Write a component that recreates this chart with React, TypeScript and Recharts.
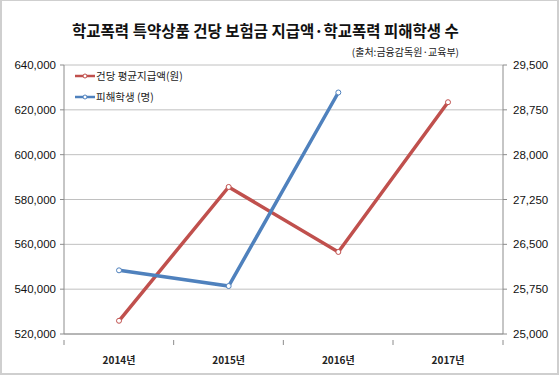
import { CartesianGrid, LineChart, Line, XAxis, YAxis } from "recharts";

const years = ["2014년", "2015년", "2016년", "2017년"];
const avgPayout = [525900, 585600, 556600, 623400];
const victims: (number | null)[] = [26065, 25802, 29040, null];
const leftTicks = [520000, 540000, 560000, 580000, 600000, 620000, 640000];
const rightTicks = [25000, 25750, 26500, 27250, 28000, 28750, 29500];

const data = years.map((year, i) => ({
  year,
  payout: avgPayout[i],
  victims: victims[i],
}));

const legendItems = [
  { label: "건당 평균지급액(원)", color: "#C0504D" },
  { label: "피해학생 (명)", color: "#4F81BD" },
];

const FONT = "'Liberation Sans', 'Noto Sans CJK KR', sans-serif";
const KFONT = "'Noto Sans CJK KR', 'Liberation Sans', sans-serif";
const fmt = (v: number) => v.toLocaleString("en-US");

// x-axis tick: label at category centre, tick marks on category boundaries
function YearTick(props: any) {
  const { x, y, payload, index } = props;
  const half = 55;
  const last = index === years.length - 1;
  return (
    <g>
      <line x1={x - half} y1={y - 2} x2={x - half} y2={y + 3} stroke="#8c8c8c" />
      {last && <line x1={x + half} y1={y - 2} x2={x + half} y2={y + 3} stroke="#8c8c8c" />}
      <text
        x={x}
        y={y + 22}
        textAnchor="middle"
        fontSize={10}
        fontWeight={700}
        fontFamily={KFONT}
        fill="#222"
      >
        {payload.value}
      </text>
    </g>
  );
}

export default function App() {
  return (
    <div
      style={{
        position: "fixed",
        left: 0,
        top: 0,
        width: 560,
        height: 376,
        background: "#fff",
      }}
    >
      <div
        style={{
          position: "absolute",
          left: 0,
          top: 0,
          width: 555,
          height: 372,
          borderTop: "1px solid #cfcfcf",
          borderLeft: "2px solid #cfcfcf",
          borderRight: "2px solid #cfcfcf",
          borderBottom: "2px solid #cfcfcf",
        }}
      />
      <div
        style={{
          position: "absolute",
          left: 0,
          width: 531,
          top: 19,
          textAlign: "center",
          fontFamily: KFONT,
          fontWeight: 700,
          fontSize: 15.5,
          color: "#111",
        }}
      >
        학교폭력 특약상품 건당 보험금 지급액·학교폭력 피해학생 수
      </div>
      <div
        style={{
          position: "absolute",
          right: 101,
          top: 44,
          fontFamily: KFONT,
          fontSize: 10,
          color: "#222",
        }}
      >
        (출처:금융감독원·교육부)
      </div>
      <LineChart
        width={560}
        height={376}
        data={data}
        margin={{ top: 65, right: 0, bottom: 18, left: 0 }}
        style={{ position: "absolute", left: 0, top: 0 }}
      >
        <CartesianGrid vertical={false} stroke="#c0c0c0" yAxisId="left" />
        <XAxis
          dataKey="year"
          axisLine={{ stroke: "#8c8c8c" }}
          tickLine={false}
          height={24}
          interval={0}
          padding={{ left: 55, right: 55 }}
          tick={<YearTick />}
        />
        <YAxis
          yAxisId="left"
          width={64}
          domain={[520000, 640000]}
          ticks={leftTicks}
          tickFormatter={fmt}
          axisLine={{ stroke: "#8c8c8c" }}
          tickLine={{ stroke: "#8c8c8c" }}
          tickSize={4}
          tickMargin={4}
          tick={{ fontSize: 11.5, fontFamily: FONT, fill: "#111" }}
        />
        <YAxis
          yAxisId="right"
          orientation="right"
          width={57}
          domain={[25000, 29500]}
          ticks={rightTicks}
          tickFormatter={fmt}
          axisLine={{ stroke: "#8c8c8c" }}
          tickLine={{ stroke: "#8c8c8c" }}
          tickSize={4}
          tickMargin={6}
          tick={{ fontSize: 11.5, fontFamily: FONT, fill: "#111" }}
        />
        <Line
          yAxisId="left"
          type="linear"
          dataKey="payout"
          name="건당 평균지급액(원)"
          stroke="#C0504D"
          strokeWidth={3.5}
          dot={{ r: 2.5, fill: "#fff", stroke: "#C0504D", strokeWidth: 1 }}
          isAnimationActive={false}
        />
        <Line
          yAxisId="right"
          type="linear"
          dataKey="victims"
          name="피해학생 (명)"
          stroke="#4F81BD"
          strokeWidth={3.5}
          dot={{ r: 2.5, fill: "#fff", stroke: "#4F81BD", strokeWidth: 1 }}
          connectNulls={false}
          isAnimationActive={false}
        />
      </LineChart>
      <div
        style={{
          position: "absolute",
          left: 75,
          top: 65,
          fontFamily: KFONT,
          fontSize: 10.5,
          color: "#222",
        }}
      >
        {legendItems.map((item) => (
          <div key={item.label} style={{ display: "flex", alignItems: "center", height: 21 }}>
            <svg width={20} height={8} style={{ marginRight: 1 }}>
              <line x1={0} y1={4} x2={20} y2={4} stroke={item.color} strokeWidth={2.5} />
              <circle cx={10} cy={4} r={2} fill="#fff" stroke={item.color} strokeWidth={1} />
            </svg>
            <span>{item.label}</span>
          </div>
        ))}
      </div>
    </div>
  );
}
